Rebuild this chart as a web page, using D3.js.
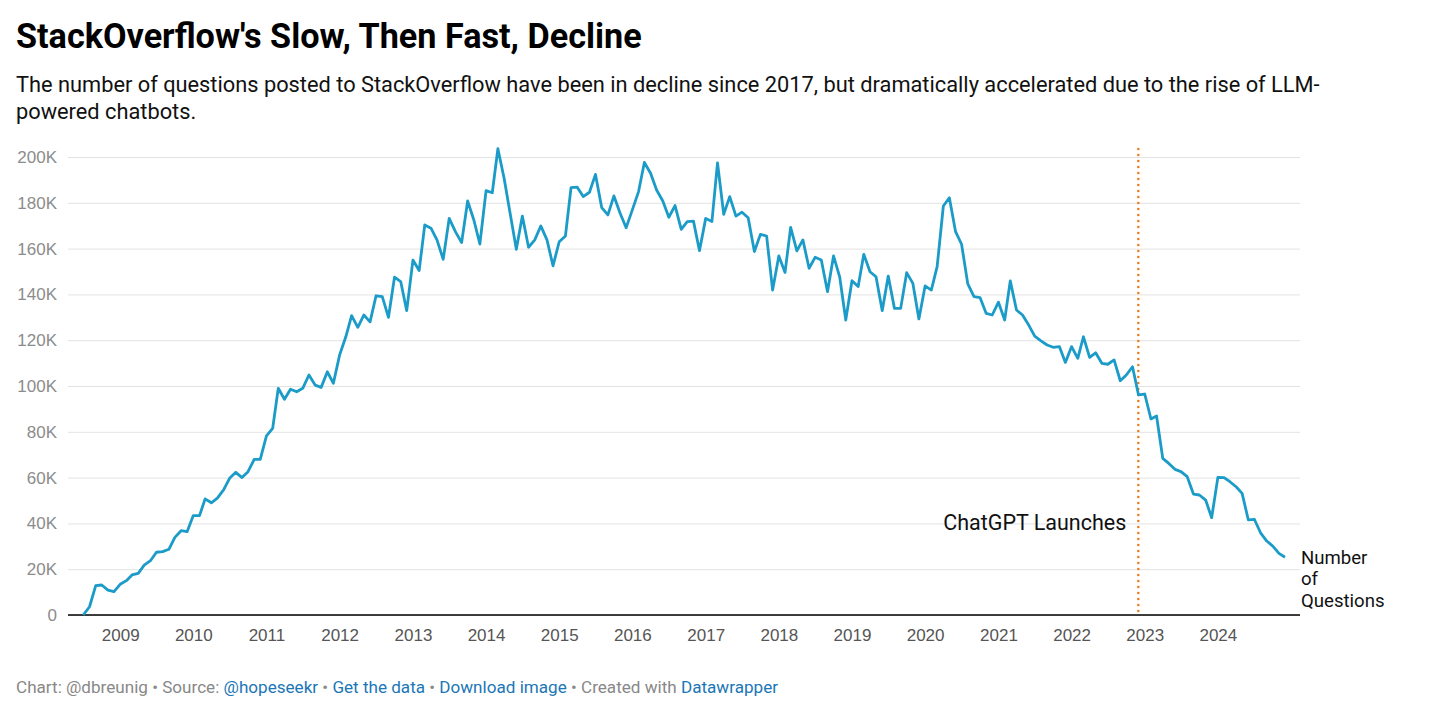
<html>
<style>
    body {
        margin: 0;
        background: #ffffff;
        font-family: Roboto, "Noto Sans", Arial, sans-serif;
    }
    .grid line {
        stroke: #e3e3e3;
        stroke-width: 1;
    }
    .yAxis text {
        fill: #8c8c8c;
        font-size: 17px;
    }
    .xAxis text {
        fill: #555555;
        font-size: 17px;
    }
    .footer {
        font-size: 17.1px;
        fill: #888888;
    }
    .footer .link {
        fill: #1b76b6;
    }
</style>

<script src="https://d3js.org/d3.v7.min.js"></script>

<body>
<svg id="chart" width="1456" height="720"></svg>
</body>

<script>

  // monthly questions (thousands), starting July 2008
  const firstMonth = [2008, 6]
  const questions = [
    0, 3.6, 12.8, 13.1, 10.9, 10.2,
    13.4, 15.0, 17.5, 18.2, 21.8, 23.7, 27.4, 27.7, 28.7, 33.9, 36.8, 36.4,
    43.4, 43.4, 50.7, 49.0, 51.0, 54.6, 59.7, 62.3, 60.0, 62.6, 68.0, 68.0,
    78.2, 81.5, 99.0, 94.2, 98.6, 97.5, 99.0, 104.8, 100.4, 99.4, 106.2, 101.2,
    113.5, 121.5, 130.7, 125.6, 131.0, 128.0, 139.4, 139.0, 130.0, 147.5, 145.6, 132.9,
    155.0, 150.4, 170.3, 168.9, 163.8, 155.3, 173.2, 167.4, 162.6, 180.8, 172.5, 162.0,
    185.3, 184.4, 203.6, 190.7, 175.4, 159.7, 174.2, 160.6, 163.8, 169.9, 163.8, 152.5,
    163.0, 165.5, 186.6, 186.8, 182.7, 184.6, 192.4, 177.9, 174.7, 183.0, 175.4, 169.1,
    176.9, 184.9, 197.6, 192.9, 185.6, 180.8, 173.7, 178.8, 168.4, 171.8, 172.0, 159.1,
    173.2, 171.8, 197.4, 175.0, 182.7, 174.2, 175.9, 173.5, 158.7, 166.2, 165.5, 141.9,
    156.8, 149.6, 169.3, 159.0, 163.8, 151.4, 156.2, 155.0, 141.2, 156.8, 147.5, 128.8,
    146.0, 143.4, 157.5, 149.9, 147.7, 132.9, 148.0, 133.9, 133.9, 149.5, 144.8, 129.3,
    143.7, 141.9, 152.1, 178.6, 182.2, 167.4, 161.9, 144.6, 139.0, 138.6, 131.7, 131.0,
    136.6, 128.8, 145.9, 133.2, 131.0, 126.6, 121.8, 119.7, 117.9, 116.9, 117.2, 110.3,
    117.2, 112.1, 121.5, 112.5, 114.5, 109.9, 109.5, 111.4, 102.3, 104.8, 108.4, 96.1,
    96.5, 85.6, 86.9, 68.4, 66.2, 63.6, 62.6, 60.4, 52.8, 52.4, 50.2, 42.5,
    60.1, 60.0, 58.2, 56.0, 53.1, 41.5, 41.8, 35.9, 32.3, 30.1, 26.9, 25.2
  ]
  const yTicks = [0, 20, 40, 60, 80, 100, 120, 140, 160, 180, 200]
  const xYears = [2009, 2010, 2011, 2012, 2013, 2014, 2015, 2016, 2017, 2018, 2019, 2020, 2021, 2022, 2023, 2024]
  const launchDate = [2022, 10, 30]
  const launchLabel = "ChatGPT Launches"
  const seriesLabel = ["Number", "of", "Questions"]

  const title = "StackOverflow's Slow, Then Fast, Decline"
  const subtitle = [
    "The number of questions posted to StackOverflow have been in decline since 2017, but dramatically accelerated due to the rise of LLM-",
    "powered chatbots."
  ]
  const footer = [
    {t: "Chart: @dbreunig • Source: ", link: false},
    {t: "@hopeseekr", link: true},
    {t: " • ", link: false},
    {t: "Get the data", link: true},
    {t: " • ", link: false},
    {t: "Download image", link: true},
    {t: " • Created with ", link: false},
    {t: "Datawrapper", link: true}
  ]

  const data = questions.map((v, i) => ({
    date: new Date(Date.UTC(firstMonth[0], firstMonth[1] + i, 1)),
    value: v
  }))

  const svg = d3.select('#chart')
  const plot = {left: 68, right: 1300, top: 157, bottom: 615}

  let x = d3.scaleUtc()
      .domain(d3.extent(data, d => d.date))
      .range([83.3, 1285])
  let y = d3.scaleLinear()
      .domain([0, 200])
      .range([plot.bottom, plot.top])

  // header
  svg.append("text")
      .attr("x", 16).attr("y", 48)
      .style("font-size", "34.2px").style("font-weight", "700")
      .attr("fill", "#000")
      .text(title)
  svg.selectAll(".sub").data(subtitle).enter().append("text")
      .attr("class", "sub")
      .attr("x", 16).attr("y", (d, i) => 91.5 + i * 27.5)
      .style("font-size", "21.8px")
      .attr("fill", "#111")
      .text(d => d)

  // grid + y labels
  let yAxis = d3.axisLeft(y)
      .tickValues(yTicks)
      .tickSize(-(plot.right - plot.left))
      .tickPadding(11)
      .tickFormat(d => d == 0 ? "0" : d + "K")
  svg.append("g")
      .attr("class", "grid yAxis")
      .attr("transform", `translate(${plot.left},0)`)
      .call(yAxis)
      .call(g => g.select(".domain").remove())
      .call(g => g.selectAll("text").attr("font-family", null))

  // x labels
  let xAxis = d3.axisBottom(x)
      .tickValues(xYears.map(yr => new Date(Date.UTC(yr, 0, 1))))
      .tickSize(0)
      .tickPadding(14)
      .tickFormat(d3.utcFormat("%Y"))
  svg.append("g")
      .attr("class", "xAxis")
      .attr("transform", `translate(0,${plot.bottom})`)
      .call(xAxis)
      .call(g => g.select(".domain").remove())
      .call(g => g.selectAll("text").attr("font-family", null))

  // baseline
  svg.append("line")
      .attr("x1", plot.left).attr("x2", plot.right)
      .attr("y1", y(0)).attr("y2", y(0))
      .attr("stroke", "#000").attr("stroke-width", 1.5)

  // ChatGPT launch marker
  let lx = x(new Date(Date.UTC(...launchDate)))
  svg.append("line")
      .attr("x1", lx).attr("x2", lx)
      .attr("y1", 149).attr("y2", y(0))
      .attr("stroke", "#ef7d1f")
      .attr("stroke-width", 2.6)
      .attr("stroke-linecap", "round")
      .attr("stroke-dasharray", "0,6")
  svg.append("text")
      .attr("x", lx - 12).attr("y", 530)
      .attr("text-anchor", "end")
      .style("font-size", "21.5px")
      .attr("fill", "#111")
      .text(launchLabel)

  // series line
  let line = d3.line()
      .x(d => x(d.date))
      .y(d => y(d.value))
  svg.append("path")
      .datum(data)
      .attr("fill", "none")
      .attr("stroke", "#1b9bc8")
      .attr("stroke-width", 2.8)
      .attr("stroke-linejoin", "round")
      .attr("d", line)

  // end label
  let last = data[data.length - 1]
  svg.append("text")
      .attr("x", 1301)
      .attr("y", y(last.value) + 6.5)
      .style("font-size", "18.6px")
      .attr("fill", "#111")
      .selectAll("tspan").data(seriesLabel).enter().append("tspan")
      .attr("x", 1301)
      .attr("dy", (d, i) => i == 0 ? 0 : 21.5)
      .text(d => d)

  // footer
  svg.append("text")
      .attr("class", "footer")
      .attr("x", 16).attr("y", 693)
      .selectAll("tspan").data(footer).enter().append("tspan")
      .attr("class", d => d.link ? "link" : null)
      .attr("xml:space", "preserve")
      .style("white-space", "pre")
      .text(d => d.t)

</script>
</html>
